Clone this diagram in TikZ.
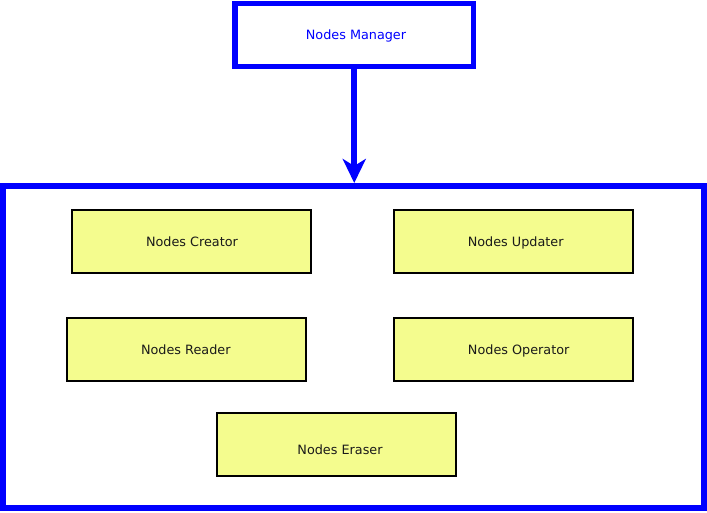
\documentclass[tikz,border=0pt]{standalone}
\usepackage{fontspec}
\setmainfont{DejaVu Sans}
\usetikzlibrary{arrows.meta}
\definecolor{boxyellow}{RGB}{244,252,142}
\definecolor{txtdark}{RGB}{26,26,26}
\newcommand{\offs}[2]{\hspace*{#1}#2}
\tikzset{
  lbl/.style={font=\fontsize{12.8}{14}\selectfont, text height=8.8pt, text depth=0pt},
  part/.style={lbl, draw=black, line width=2pt, fill=boxyellow, minimum width=238.7pt, minimum height=63pt, inner sep=0pt, text=txtdark},
  bluebox/.style={draw=blue, fill=white, inner sep=0pt},
  flow/.style={draw=blue, line width=6pt, -{Stealth[length=24pt,width=23pt,inset=7pt]}}
}
\begin{document}
\begin{tikzpicture}[x=1pt,y=-1pt]
\useasboundingbox (0,0) rectangle (707,512);
\node[bluebox, line width=6pt, minimum width=701pt, minimum height=322pt] (container) at (353.5,347) {};
\node[bluebox, lbl, line width=5.5pt, minimum width=238.5pt, minimum height=62.8pt, text=blue] (manager) at (354.25,34.9) {\offs{3.5pt}{Nodes Manager}};
\draw[flow] (manager.south) -- (container.north -| manager.south);
\node[part] (creator) at (191.7,241.7) {\offs{0.6pt}{Nodes Creator}};
\node[part] (updater) at (513.7,241.7) {\offs{4pt}{Nodes Updater}};
\node[part] (reader) at (186.3,349.8) {\offs{-1pt}{Nodes Reader}};
\node[part] (operator) at (513.7,349.8) {\offs{10pt}{Nodes Operator}};
\node[part] (eraser) at (336.7,444.8) {\offs{6.6pt}{\raisebox{-5.5pt}{Nodes Eraser}}};
\end{tikzpicture}
\end{document}
